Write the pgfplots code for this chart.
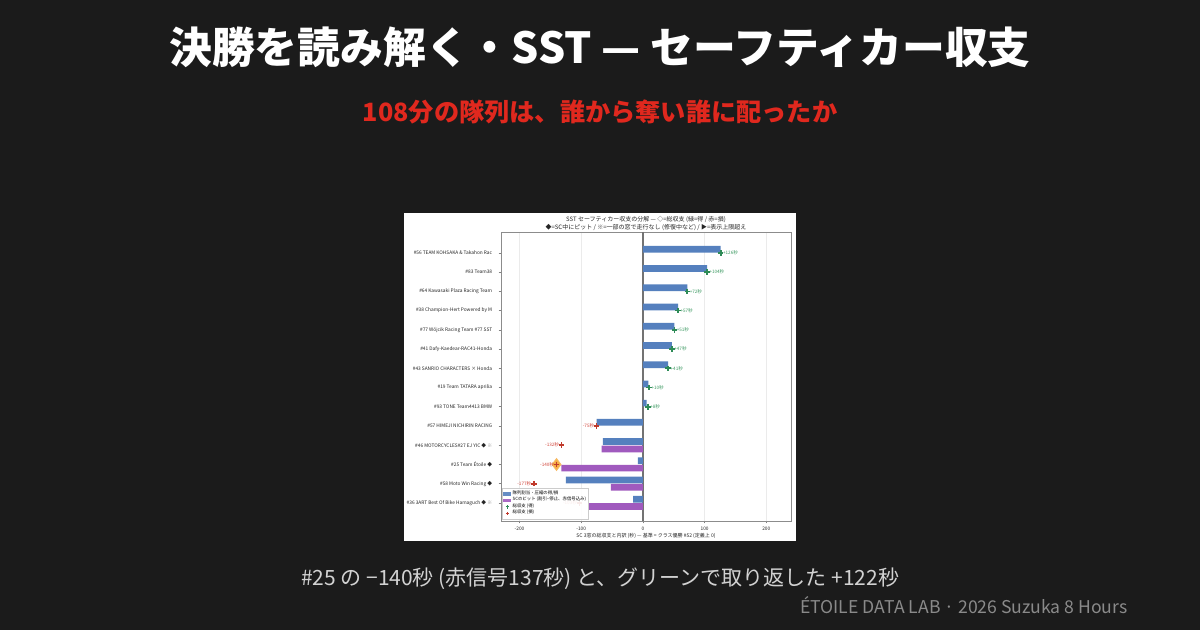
\documentclass[border=0pt]{standalone}
\usepackage{pgfplots}
\pgfplotsset{compat=1.18}
\usepackage{fontspec}
\setmainfont{Noto Sans CJK JP}
\definecolor{bg}{HTML}{1B1B1B}
\definecolor{subred}{HTML}{E0281E}
\definecolor{capgray}{HTML}{D2D2D2}
\definecolor{footgray}{HTML}{8A8A8A}
\definecolor{barblue}{HTML}{5580BE}
\definecolor{barpurple}{HTML}{A05ABE}
\definecolor{mgreen}{HTML}{2E8B57}
\definecolor{lgreen}{HTML}{3C9A62}
\definecolor{mred}{HTML}{C0392B}
\definecolor{lred}{HTML}{D2453A}
\definecolor{hlorange}{HTML}{F5A02A}
\begin{document}
\begin{tikzpicture}[x=1pt,y=1pt]
\path[use as bounding box] (0,0) rectangle (600,315);
\fill[bg] (0,0) rectangle (600,315);
\node[font=\fontsize{21.4}{24}\selectfont\bfseries, text=white] at (300,291.5) {決勝を読み解く・SST — セーフティカー収支};
\node[font=\fontsize{12.6}{15}\selectfont\bfseries, text=subred] at (300,259) {108分の隊列は、誰から奪い誰に配ったか};
\fill[white] (202,44.5) rectangle (398,208.5);
\begin{axis}[
  at={(250.5pt,54.5pt)}, anchor=south west,
  width=145pt, height=144.5pt, scale only axis,
  xmin=-230, xmax=240, ymin=-1.09, ymax=13.94, y dir=reverse,
  xtick={-200,-100,0,100,200},
  ytick={0,...,13},
  yticklabels={
    \#56 TEAM KOHSAKA \& Takahon Rac,
    \#83 Team38,
    \#64 Kawasaki Plaza Racing Team,
    \#38 Champion-Hert Powered by M,
    \#77 Wójcik Racing Team \#77 SST,
    \#41 Dafy-Kaedear-RAC41-Honda,
    \#43 SANRIO CHARACTERS × Honda,
    \#19 Team TATARA aprilia,
    \#93 TONE Team4413 BMW,
    \#57 HIMEJI NICHIRIN  RACING,
    {\#46 MOTORCYCLES\#27 EJ YIC ◆ {\color{gray}※}},
    {\#25 Team Étoile ◆},
    {\#58 Moto Win Racing ◆},
    {\#36 3ART Best Of Bike Hamaguch ◆ {\color{gray}※}}
  },
  /pgf/number format/assume math mode=true,
  xmajorgrids, grid style={black!8, line width=0.3pt},
  axis line style={black!45, line width=0.4pt},
  tick align=outside, major tick length=1.2pt,
  xtick pos=bottom, ytick pos=left,
  tick style={black!50, line width=0.3pt},
  tick label style={font=\fontsize{2.4}{3}\selectfont, text=black!85},
  xticklabel style={yshift=1.5pt},
  yticklabel style={xshift=0.3pt},
  xlabel={SC 3窓の総収支と内訳 (秒) — 基準 = クラス優勝 \#52 (定義上 0)},
  xlabel style={at={(axis description cs:0.5,0)}, anchor=center, yshift=-7.3pt, font=\fontsize{2.5}{3}\selectfont, text=black!85},
  every axis title shift=0pt,
  title={SST セーフティカー収支の分解 — ◇=総収支 (緑=得 / 赤=損)\\◆=SC中にピット / ※=一部の窓で走行なし (修復中など) / ▶=表示上限超え},
  title style={at={(axis description cs:0.5,1)}, anchor=south, yshift=-3pt, align=center, font=\fontsize{3}{4}\selectfont, text=black!85},
  legend style={at={(0.004,0.006)}, anchor=south west, font=\fontsize{2.2}{2.6}\selectfont,
    draw=black!20, fill=white, fill opacity=0.9, text opacity=1, draw opacity=1,
    inner sep=0.5pt, row sep=-1.3pt, line width=0.3pt,
    nodes={inner sep=0.6pt}},
  legend cell align=left,
]
\addplot[forget plot, black!55, line width=0.6pt] coordinates {(0,-1.09) (0,13.94)};
\addplot[xbar, bar width=0.35, bar shift=-0.19, fill=barblue, draw=none,
  legend image code/.code={\fill[barblue] (0pt,-0.8pt) rectangle (4pt,0.8pt);}]
  coordinates {(126,0) (104,1) (72,2) (57,3) (51,4) (47,5) (41,6) (9,7) (6,8) (-75,9) (-65,10) (-8,11) (-125,12) (-16,13)};
\addlegendentry{隊列割当・圧縮の得/損}
\addplot[xbar, bar width=0.35, bar shift=0.19, fill=barpurple, draw=none,
  legend image code/.code={\fill[barpurple] (0pt,-0.8pt) rectangle (4pt,0.8pt);}]
  coordinates {(-67,10) (-132,11) (-52,12) (-87,13)};
\addlegendentry{SCのピット (割引−停止、赤信号込み)}
\addplot[forget plot, only marks, mark=diamond*, mark size=3pt, mark options={fill=hlorange, draw=hlorange!70, fill opacity=0.85}]
  coordinates {(-140,11)};
\addplot[only marks, mark=+, mark size=1.4pt, mark options={line width=0.85pt, draw=mgreen},
  legend image code/.code={\path plot[mark=+, mark size=0.8pt, mark options={draw=mgreen, line width=0.5pt}] coordinates {(2pt,0pt)};},
  nodes near coords, point meta=explicit symbolic,
  nodes near coords style={anchor=west, font=\fontsize{2.3}{2.6}\selectfont, text=lgreen, inner sep=0.8pt}]
  table[meta=lab] {
x y lab
126 0 +126秒
104 1 +104秒
72 2 +72秒
57 3 +57秒
51 4 +51秒
47 5 +47秒
41 6 +41秒
10 7 +10秒
8 8 +8秒
};
\addlegendentry{総収支 (得)}
\addplot[only marks, mark=+, mark size=1.4pt, mark options={line width=0.85pt, draw=mred},
  legend image code/.code={\path plot[mark=+, mark size=0.8pt, mark options={draw=mred, line width=0.5pt}] coordinates {(2pt,0pt)};},
  nodes near coords, point meta=explicit symbolic,
  nodes near coords style={anchor=east, font=\fontsize{2.3}{2.6}\selectfont, text=lred, inner sep=0.8pt}]
  table[meta=lab] {
x y lab
-75 9 -75秒
-132 10 -132秒
-140 11 -140秒
-177 12 -177秒
-103 13 -103秒
};
\addlegendentry{総収支 (損)}
\end{axis}
\node[font=\fontsize{10.5}{12}\selectfont, text=capgray] at (300,25.5) {\#25 の −140秒 (赤信号137秒) と、グリーンで取り返した +122秒};
\node[font=\fontsize{8.8}{10}\selectfont, text=footgray, anchor=east, inner sep=0pt] at (564,12.5) {ÉTOILE DATA LAB · 2026 Suzuka 8 Hours};
\end{tikzpicture}
\end{document}
